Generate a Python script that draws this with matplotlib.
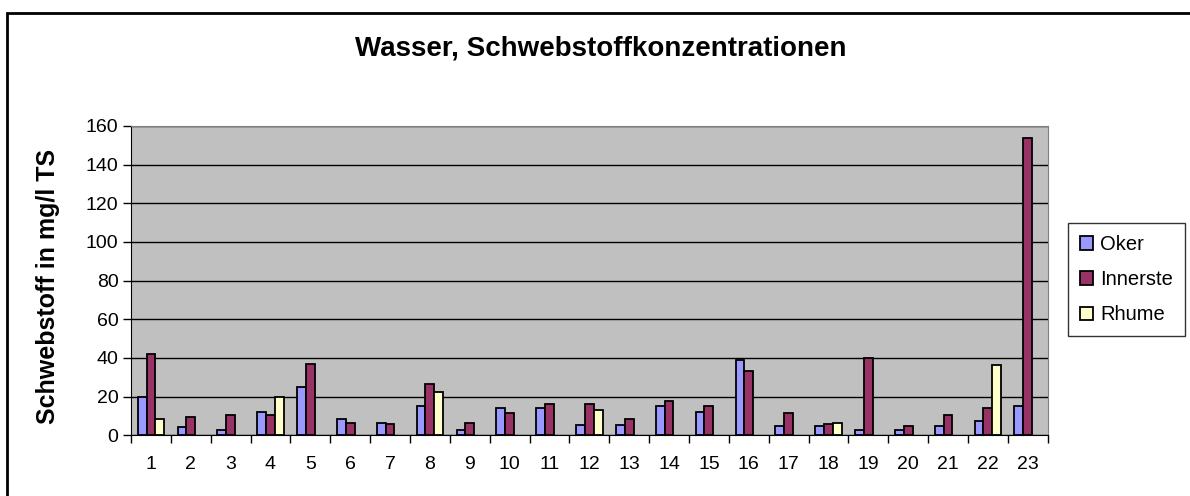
import numpy as np
from matplotlib import pyplot as plt
from matplotlib.patches import Rectangle

stations = [str(i) for i in range(1, 24)]
oker = [20, 4.5, 2.7, 12.3, 24.8, 8.6, 6.5, 15.2, 2.7, 14.2, 14.2, 5.5,
        5.5, 15.2, 12.3, 39, 4.6, 4.6, 2.7, 2.7, 4.6, 7.5, 15.2]
innerste = [42, 9.4, 10.4, 10.4, 37, 6.5, 5.6, 26.7, 6.5, 11.3, 16.1, 16.1,
            8.4, 17.9, 15, 33.2, 11.3, 5.6, 40, 4.6, 10.4, 14.2, 154]
rhume = [8.5, np.nan, np.nan, 20, np.nan, np.nan, np.nan, 22.6, np.nan, np.nan, np.nan, 13.2,
         np.nan, np.nan, np.nan, np.nan, np.nan, 6.5, np.nan, np.nan, np.nan, 36.2, np.nan]

plt.rcParams['font.family'] = ['Liberation Sans', 'DejaVu Sans']

W, H = 1190, 496
fig = plt.figure(figsize=(W / 100.0, H / 100.0), dpi=100)

# outer chart border (right and bottom edges run off the picture)
fig.patches.append(Rectangle((7.0 / W, -0.1), 1.2, 1 - 13.0 / H + 0.1,
                             transform=fig.transFigure, fill=False,
                             edgecolor='black', linewidth=2))

ax = fig.add_axes([131.0 / W, 1 - 435.3 / H, (1047.7 - 131.0) / W, (435.3 - 126.0) / H])
ax.set_facecolor('#C0C0C0')

x = np.arange(len(stations))
bw = 0.222
ax.bar(x - bw, oker, bw, color='#9999FF', edgecolor='black', linewidth=1.3, label='Oker', zorder=3)
ax.bar(x, innerste, bw, color='#993366', edgecolor='black', linewidth=1.3, label='Innerste', zorder=3)
ax.bar(x + bw, rhume, bw, color='#FFFFCC', edgecolor='black', linewidth=1.3, label='Rhume', zorder=3)

ax.set_xlim(-0.5, len(stations) - 0.5)
ax.set_ylim(0, 160)
ax.set_yticks(np.arange(0, 161, 20))
ax.yaxis.grid(True, color='black', linewidth=1, zorder=1)
ax.set_axisbelow(True)

ax.set_xticks(x)
ax.set_xticklabels(stations, fontsize=14)
ax.set_xticks(np.arange(-0.5, len(stations), 1), minor=True)
ax.tick_params(axis='x', which='major', length=0, pad=15)
ax.tick_params(axis='x', which='minor', length=6, width=1, direction='out')
ax.tick_params(axis='y', length=6, width=1, direction='out', labelsize=14, pad=3)

for s in ['top', 'right']:
    ax.spines[s].set_color('#808080')
ax.spines['left'].set_color('black')
ax.spines['bottom'].set_color('black')

fig.text(48.0 / W, 1 - 286.0 / H, 'Schwebstoff in mg/l TS', rotation=90,
         ha='center', va='center', fontsize=18, fontweight='bold')
fig.text(601.0 / W, 1 - 48.0 / H, 'Wasser, Schwebstoffkonzentrationen',
         ha='center', va='center', fontsize=20, fontweight='bold')

leg = ax.legend(loc='upper left', bbox_to_anchor=(1068.0 / W, 1 - 223.0 / H),
                bbox_transform=fig.transFigure, fontsize=14.5, frameon=True,
                fancybox=False, handlelength=0.65, handleheight=0.65,
                handletextpad=0.35, labelspacing=0.8, borderpad=0.6,
                borderaxespad=0)
leg.get_frame().set_edgecolor('black')
leg.get_frame().set_linewidth(1)

plt.savefig('out.png', dpi=100)
